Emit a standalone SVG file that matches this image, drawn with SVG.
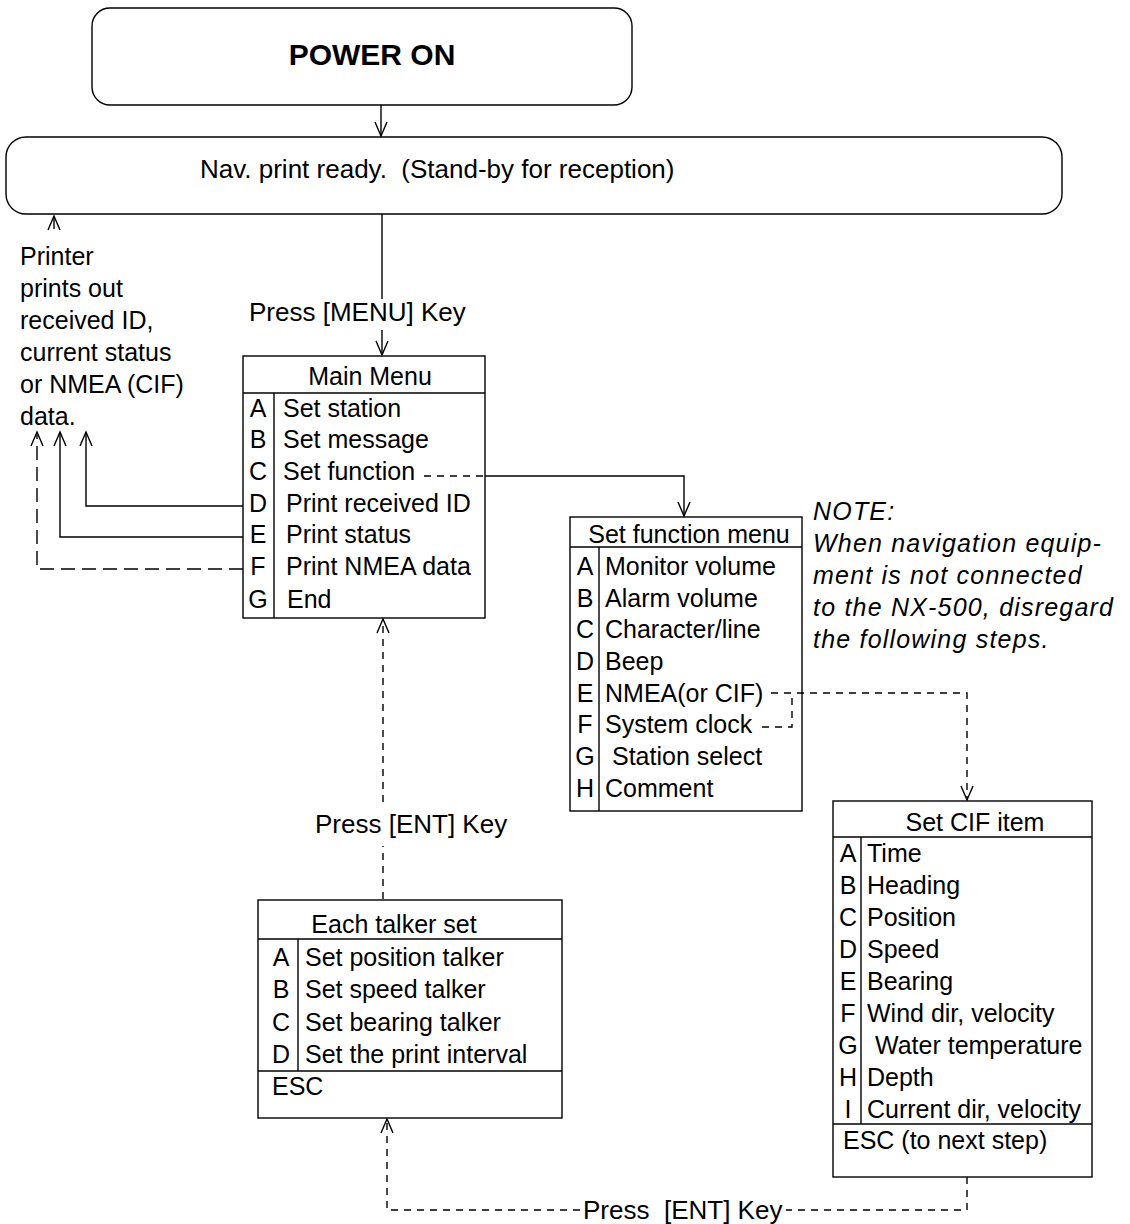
<svg xmlns="http://www.w3.org/2000/svg" width="1130" height="1224" viewBox="0 0 1130 1224">
<style>
text{font-family:"Liberation Sans",Arial,sans-serif;font-size:25px;fill:#000}
.lbl{font-size:26px}
.b{font-weight:bold;font-size:30px}
.it{font-style:italic;letter-spacing:1.2px}
.box{fill:#fff;stroke:#000;stroke-width:1.4}
.ln{fill:none;stroke:#000;stroke-width:1.4}
.c{text-anchor:middle}
.con{fill:none;stroke:#000;stroke-width:1.4}
.d1{stroke-dasharray:14 7}
.d2{stroke-dasharray:7 6}
</style>
<defs>
<marker id="v" markerUnits="userSpaceOnUse" markerWidth="16" markerHeight="14" refX="14" refY="6" orient="auto" overflow="visible">
<path d="M0,0 L14,6 L0,12" fill="none" stroke="#000" stroke-width="1.4"/>
</marker>
</defs>

<g id="power-on">
<rect class="box" x="92" y="8" width="540" height="97" rx="18"/>
<text class="b c" x="372" y="65">POWER ON</text>
</g>

<g id="nav-ready">
<rect class="box" x="6" y="137" width="1056" height="77" rx="20"/>
<text class="lbl" x="200" y="178" xml:space="preserve">Nav. print ready.  (Stand-by for reception)</text>
</g>

<g id="printer-note">
<text x="20" y="265">Printer</text>
<text x="20" y="297">prints out</text>
<text x="20" y="329">received ID,</text>
<text x="20" y="361">current status</text>
<text x="20" y="393">or NMEA (CIF)</text>
<text x="20" y="425">data.</text>
</g>

<g id="main-menu">
<rect class="box" x="243" y="356" width="242" height="262"/>
<line class="ln" x1="243" y1="393" x2="485" y2="393"/>
<line class="ln" x1="274" y1="393" x2="274" y2="618"/>
<text class="c" x="370" y="385">Main Menu</text>
<text class="c" x="258" y="417">A</text><text x="283" y="417">Set station</text>
<text class="c" x="258" y="448">B</text><text x="283" y="448">Set message</text>
<text class="c" x="258" y="480">C</text><text x="283" y="480">Set function</text>
<text class="c" x="258" y="512">D</text><text x="286" y="512">Print received ID</text>
<text class="c" x="258" y="543">E</text><text x="286" y="543">Print status</text>
<text class="c" x="258" y="575">F</text><text x="286" y="575">Print NMEA data</text>
<text class="c" x="258" y="608">G</text><text x="287" y="608">End</text>
</g>

<g id="set-function-menu">
<rect class="box" x="570" y="517" width="232" height="294"/>
<line class="ln" x1="570" y1="547" x2="802" y2="547"/>
<line class="ln" x1="599" y1="547" x2="599" y2="811"/>
<text class="c" x="689" y="543">Set function menu</text>
<text class="c" x="585" y="575">A</text><text x="605" y="575">Monitor volume</text>
<text class="c" x="585" y="607">B</text><text x="605" y="607">Alarm volume</text>
<text class="c" x="585" y="638">C</text><text x="605" y="638">Character/line</text>
<text class="c" x="585" y="670">D</text><text x="605" y="670">Beep</text>
<text class="c" x="585" y="702">E</text><text x="605" y="702">NMEA(or CIF)</text>
<text class="c" x="585" y="733">F</text><text x="605" y="733">System clock</text>
<text class="c" x="585" y="765">G</text><text x="612" y="765">Station select</text>
<text class="c" x="585" y="797">H</text><text x="605" y="797">Comment</text>
</g>

<g id="note">
<text class="it" x="813" y="520">NOTE:</text>
<text class="it" x="813" y="552">When navigation equip-</text>
<text class="it" x="813" y="584">ment is not connected</text>
<text class="it" x="813" y="616">to the NX-500, disregard</text>
<text class="it" x="813" y="648">the following steps.</text>
</g>

<g id="set-cif-item">
<rect class="box" x="833" y="801" width="259" height="376"/>
<line class="ln" x1="833" y1="837" x2="1092" y2="837"/>
<line class="ln" x1="861" y1="837" x2="861" y2="1124"/>
<line class="ln" x1="833" y1="1124" x2="1092" y2="1124"/>
<text class="c" x="975" y="831">Set CIF item</text>
<text class="c" x="848" y="862">A</text><text x="867" y="862">Time</text>
<text class="c" x="848" y="894">B</text><text x="867" y="894">Heading</text>
<text class="c" x="848" y="926">C</text><text x="867" y="926">Position</text>
<text class="c" x="848" y="958">D</text><text x="867" y="958">Speed</text>
<text class="c" x="848" y="990">E</text><text x="867" y="990">Bearing</text>
<text class="c" x="848" y="1022">F</text><text x="867" y="1022">Wind dir, velocity</text>
<text class="c" x="848" y="1054">G</text><text x="875" y="1054">Water temperature</text>
<text class="c" x="848" y="1086">H</text><text x="867" y="1086">Depth</text>
<text class="c" x="848" y="1118">I</text><text x="867" y="1118">Current dir, velocity</text>
<text x="843" y="1149">ESC (to next step)</text>
</g>

<g id="each-talker-set">
<rect class="box" x="258" y="900" width="304" height="218"/>
<line class="ln" x1="258" y1="939" x2="562" y2="939"/>
<line class="ln" x1="298" y1="939" x2="298" y2="1071"/>
<line class="ln" x1="258" y1="1071" x2="562" y2="1071"/>
<text class="c" x="394" y="933">Each talker set</text>
<text class="c" x="281" y="966">A</text><text x="305" y="966">Set position talker</text>
<text class="c" x="281" y="998">B</text><text x="305" y="998">Set speed talker</text>
<text class="c" x="281" y="1031">C</text><text x="305" y="1031">Set bearing talker</text>
<text class="c" x="281" y="1063">D</text><text x="305" y="1063">Set the print interval</text>
<text x="272" y="1095">ESC</text>
</g>

<g id="connectors">
<path class="con" d="M381,105 V136" marker-end="url(#v)"/>
<path class="con" d="M382,214 V299"/>
<path class="con" d="M382,330 V355" marker-end="url(#v)"/>
<text class="lbl" x="249" y="321">Press [MENU] Key</text>
<path class="con" d="M54,229 V216" marker-end="url(#v)"/>
<path class="con" d="M243,506 H86 V432" marker-end="url(#v)"/>
<path class="con" d="M243,537 H60 V432" marker-end="url(#v)"/>
<path class="con d1" d="M243,569 H37 V432" marker-end="url(#v)"/>
<path class="con d2" d="M424,476 H485"/>
<path class="con" d="M485,476 H684 V516" marker-end="url(#v)"/>
<path class="con d2" d="M771,693 H967 V800" marker-end="url(#v)"/>
<path class="con d2" d="M762,727 H792 V693"/>
<path class="con d2" d="M383,899 V846"/>
<path class="con d2" d="M383,802 V619" marker-end="url(#v)"/>
<text class="lbl" x="315" y="833">Press [ENT] Key</text>
<path class="con d2" d="M967,1177 V1210 H786"/>
<path class="con d2" d="M580,1210 H387 V1119" marker-end="url(#v)"/>
<text class="lbl" x="583" y="1219" xml:space="preserve">Press  [ENT] Key</text>
</g>
</svg>
